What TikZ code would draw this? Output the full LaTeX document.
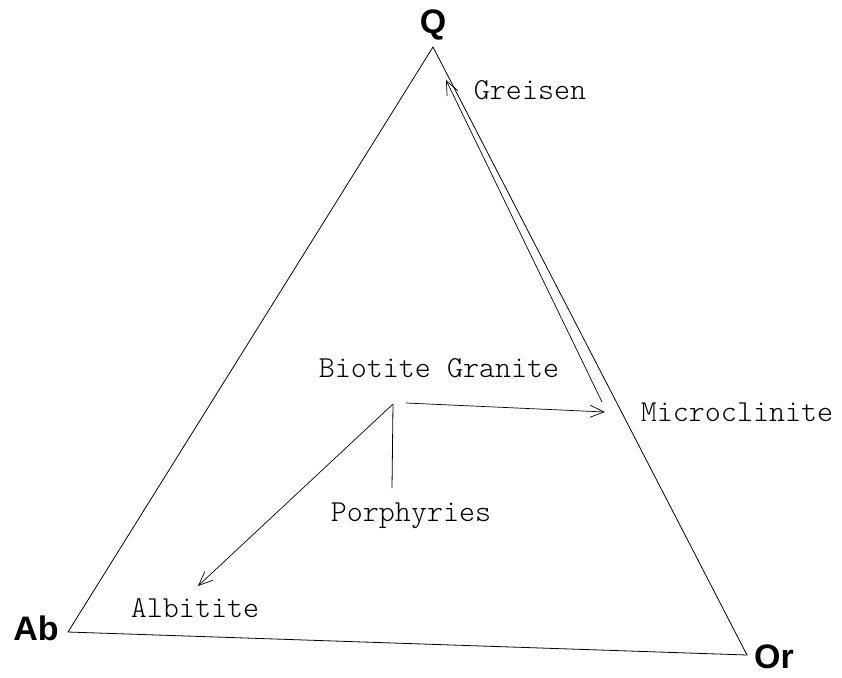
\documentclass[tikz,border=0pt]{standalone}
\usepackage{fontspec}
\newfontfamily\labfont{Liberation Sans}
\setmonofont{Latin Modern Mono Light}
\usetikzlibrary{arrows.meta}
\begin{document}
\begin{tikzpicture}[x=1pt,y=-1pt,
  vert/.style={font=\labfont\bfseries\fontsize{34}{36}\selectfont, inner sep=0pt},
  mineral/.style={font=\ttfamily\fontsize{30.5}{32}\selectfont, inner sep=0pt},
  edge/.style={line width=0.8pt},
  flow/.style={line width=0.7pt, -{Straight Barb[length=14pt,width=12pt,line width=0.7pt]}}]
\useasboundingbox (0,0) rectangle (842,677);
% vertices
\coordinate (q) at (433,47);
\coordinate (ab) at (68,632);
\coordinate (or) at (747,655);
\node[vert] (Q) at (433,25) {Q};
\node[vert] (Ab) at (36,628) {Ab};
\node[vert] (Or) at (774,657) {Or};
\draw[edge] (q) -- (ab) -- (or) -- cycle;
% labels
\node[mineral] (bg) at (439,368) {Biotite Granite};
\node[mineral] (por) at (411,516) {Porphyries};
\node[mineral] (alb) at (195,608) {Albitite};
\node[mineral] (gre) at (530,90) {Greisen};
\node[mineral] (mic) at (737,412) {Microclinite};
% connectors
\coordinate (hub) at (393,404);
\coordinate (pb) at (392,488);
\coordinate (hs) at (406,403);
\coordinate (he) at (605,412);
\coordinate (at) at (198,586);
\coordinate (gs) at (602,402);
\coordinate (gt) at (446,80);
\draw[edge] (pb) -- (hub);
\draw[flow] (hub) -- (at);
\draw[flow] (hs) -- (he);
\draw[flow] (gs) -- (gt);
\end{tikzpicture}
\end{document}
